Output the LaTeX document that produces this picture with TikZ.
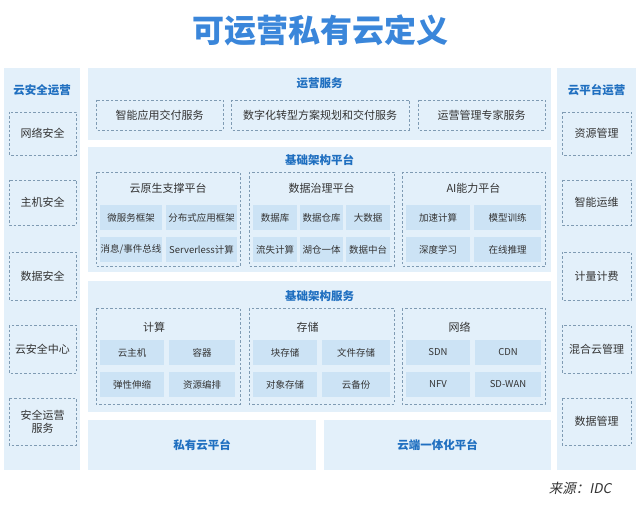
\documentclass[tikz,border=0pt]{standalone}
\usepackage{fontspec}
\setmainfont{Noto Sans CJK SC}
\newfontfamily\slnt[FakeSlant=0.2]{Noto Sans CJK SC}
\definecolor{panel}{HTML}{E3F0FA}
\definecolor{cell}{HTML}{CCE3F5}
\definecolor{dash}{HTML}{7F9BB3}
\definecolor{head}{HTML}{1F6FC0}
\definecolor{ttl}{HTML}{3A86DA}
\definecolor{txt}{HTML}{333333}
\tikzset{
 pan/.style={fill=panel,draw=none},
 dbox/.style={draw=dash,dashed,dash pattern=on 2.5pt off 2pt,line width=0.7pt},
 cel/.style={fill=cell,draw=none},
 hd/.style={text=head,font=\fontsize{11.5}{12}\selectfont\bfseries},
 lb/.style={text=txt,font=\fontsize{11}{12}\selectfont},
 sl/.style={text=txt,font=\fontsize{9.5}{11}\selectfont},
}
\begin{document}
\begin{tikzpicture}[x=1pt,y=-1pt]
\useasboundingbox (0,0) rectangle (640,505);
\node[text=ttl,font=\fontsize{32}{34}\selectfont\bfseries] (title) at (320,30) {可运营私有云定义};
% side columns
\path[pan] (4,68) rectangle (80,470);
\path[pan] (557,68) rectangle (636,470);
\node[hd] (lh) at (42,90) {云安全运营};
\node[hd] (rh) at (596.5,90) {云平台运营};
\foreach \t/\a/\b [count=\i] in {网络安全/112/155,主机安全/180/225,数据安全/252/300,云安全中心/325/373,{\shortstack{安全运营\\服务}}/398/445}{
 \draw[dbox] (9,\a) rectangle (76,\b);
 \node[lb] (l\i) at (42.5,{(\a+\b)/2}) {\t};}
\foreach \t/\a/\b [count=\i] in {资源管理/112/155,智能运维/180/225,计量计费/252/300,混合云管理/325/373,数据管理/398/445}{
 \draw[dbox] (562,\a) rectangle (631,\b);
 \node[lb] (r\i) at (596.5,{(\a+\b)/2}) {\t};}
% panel 1
\path[pan] (88,68) rectangle (551,140);
\node[hd] (p1) at (319.5,83) {运营服务};
\foreach \t/\a/\b [count=\i] in {智能应用交付服务/96/223,数字化转型方案规划和交付服务/231/409,运营管理专家服务/418/545}{
 \draw[dbox] (\a,100) rectangle (\b,130);
 \node[lb] (s\i) at ({(\a+\b)/2},115) {\t};}
% panel 2
\path[pan] (88,147) rectangle (551,272);
\node[hd] (p2) at (319.5,160) {基础架构平台};
\foreach \t/\a/\b [count=\i] in {云原生支撑平台/96/240,数据治理平台/249/394,AI能力平台/402/545}{
 \draw[dbox] (\a,172) rectangle (\b,266);
 \node[lb] (g\i) at ({(\a+\b)/2},188) {\t};}
\foreach \t/\a/\b/\y [count=\i] in {微服务框架/100/162/205,分布式应用框架/166/237/205,{消息/事件总线}/100/162/237,Serverless计算/166/237/237,
 数据库/253/297/205,数据仓库/300/343/205,大数据/346/390/205,流失计算/253/297/237,湖仓一体/300/343/237,数据中台/346/390/237,
 加速计算/406/470/205,模型训练/474/541/205,深度学习/406/470/237,在线推理/474/541/237}{
 \path[cel] (\a,\y) rectangle (\b,\y+25);
 \node[sl,inner sep=0pt] (c\i) at ({(\a+\b)/2},\y+12.5) {\t};}
% panel 3
\path[pan] (88,281) rectangle (551,412);
\node[hd] (p3) at (319.5,296) {基础架构服务};
\foreach \t/\a/\b [count=\i] in {计算/96/240,存储/249/394,网络/402/545}{
 \draw[dbox] (\a,308) rectangle (\b,404);
 \node[lb] (h\i) at ({(\a+\b)/2-14},327) {\t};}
\foreach \t/\a/\b/\y [count=\i] in {云主机/100/164/340,容器/169/235/340,弹性伸缩/100/164/372,资源编排/169/235/372,
 块存储/253/317/340,文件存储/322/390/340,对象存储/253/317/372,云备份/322/390/372,
 SDN/406/470/340,CDN/475/541/340,NFV/406/470/372,SD-WAN/475/541/372}{
 \path[cel] (\a,\y) rectangle (\b,\y+25);
 \node[sl,inner sep=0pt] (d\i) at ({(\a+\b)/2},\y+12.5) {\t};}
% bottom
\path[pan] (88,420) rectangle (316,470);
\path[pan] (324,420) rectangle (551,470);
\node[hd] (b1) at (202,445) {私有云平台};
\node[hd] (b2) at (437.5,445) {云端一体化平台};
\node[text=txt,font=\fontsize{13.5}{14}\selectfont\slnt] (src) at (580,488) {来源：IDC};
\end{tikzpicture}
\end{document}
